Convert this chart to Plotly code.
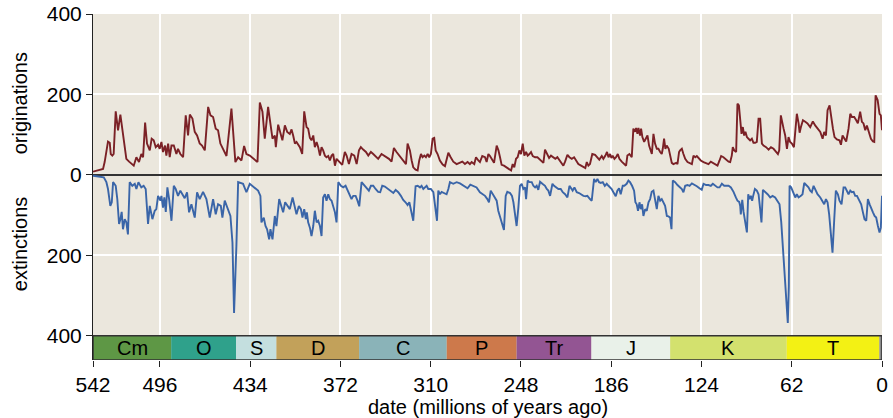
import plotly.graph_objects as go

# ---- data (age in millions of years ago, count) ----
originations = [
    (542.0, 8), (538.5, 11), (535.1, 15), (534.0, 32), (531.7, 83), (530.5, 80), (529.8, 52), (528.7, 48),
    (527.8, 52), (526.4, 158), (524.8, 111), (523.2, 150), (521.4, 98), (519.1, 40), (517.2, 33), (515.6, 27),
    (514.0, 23), (512.2, 44), (510.4, 32), (508.8, 52), (507.6, 44), (506.2, 130), (504.9, 78), (503.0, 61),
    (501.7, 90), (500.3, 86), (498.9, 69), (497.3, 75), (496.2, 65), (495.0, 82), (493.9, 57), (492.5, 73),
    (491.6, 48), (490.4, 78), (489.3, 44), (488.1, 73), (486.5, 73), (484.7, 52), (483.6, 65), (482.0, 52),
    (480.1, 44), (478.3, 148), (476.7, 98), (475.5, 150), (473.7, 140), (472.1, 107), (470.5, 98), (468.7, 78),
    (467.1, 73), (465.2, 61), (462.9, 169), (461.3, 148), (459.5, 144), (457.7, 115), (456.1, 111), (454.5, 78),
    (452.6, 65), (450.3, 47), (446.9, 165), (444.2, 32), (442.3, 44), (440.0, 36), (438.2, 72), (436.6, 52),
    (434.3, 48), (430.9, 38), (429.0, 32), (427.4, 180), (425.6, 157), (424.0, 90), (421.7, 169), (420.6, 140),
    (418.7, 90), (417.1, 98), (416.4, 69), (414.8, 125), (413.2, 102), (411.9, 86), (410.2, 123), (408.6, 107),
    (406.8, 102), (405.6, 113), (404.5, 98), (403.3, 78), (402.2, 82), (401.0, 73), (399.9, 69), (398.3, 52),
    (396.9, 158), (395.3, 119), (394.2, 115), (393.0, 92), (391.9, 86), (390.7, 98), (389.6, 69), (388.4, 82),
    (387.3, 69), (386.1, 48), (385.0, 69), (383.9, 61), (382.7, 48), (381.6, 44), (380.4, 47), (379.3, 36),
    (378.1, 48), (377.0, 52), (375.8, 23), (374.7, 40), (373.5, 36), (372.4, 32), (370.8, 25), (369.0, 57),
    (367.8, 48), (366.2, 27), (364.4, 52), (362.5, 48), (360.9, 27), (359.3, 61), (358.0, 69), (356.4, 63),
    (354.5, 57), (352.9, 48), (351.1, 57), (349.5, 52), (347.9, 47), (346.1, 40), (343.8, 52), (341.9, 48),
    (340.3, 44), (338.7, 40), (336.9, 33), (335.3, 67), (333.5, 57), (331.6, 48), (330.0, 42), (328.2, 32),
    (327.0, 27), (325.9, 78), (324.3, 61), (323.1, 36), (322.0, 19), (320.4, 13), (319.0, 11), (317.9, 36),
    (316.7, 52), (315.6, 44), (314.4, 48), (313.3, 44), (312.1, 52), (311.0, 44), (309.9, 52), (308.7, 90),
    (307.6, 92), (306.6, 61), (305.3, 52), (303.7, 36), (301.8, 26), (300.2, 22), (299.1, 36), (297.9, 55),
    (296.3, 44), (294.5, 33), (292.2, 27), (289.9, 30), (288.3, 33), (286.5, 27), (284.7, 32), (283.1, 27),
    (281.9, 32), (280.1, 27), (278.9, 44), (277.3, 36), (276.2, 32), (274.6, 47), (272.7, 44), (271.6, 32),
    (270.4, 52), (269.3, 47), (268.1, 40), (266.5, 30), (264.7, 73), (263.5, 61), (262.4, 44), (261.3, 25),
    (259.7, 23), (257.8, 19), (256.0, 15), (254.8, 11), (253.7, 27), (252.6, 19), (251.4, 40), (250.3, 44),
    (249.1, 61), (248.0, 52), (246.8, 78), (245.7, 48), (244.5, 57), (243.4, 48), (242.2, 52), (241.1, 57),
    (239.9, 47), (238.3, 44), (236.7, 44), (235.4, 40), (233.8, 36), (232.6, 30), (231.5, 63), (230.3, 52),
    (228.7, 42), (227.4, 48), (225.7, 44), (224.4, 40), (223.0, 44), (221.6, 36), (220.5, 33), (218.9, 23),
    (217.7, 33), (216.1, 50), (214.7, 44), (213.1, 40), (211.5, 44), (210.2, 36), (208.6, 27), (206.7, 23),
    (205.1, 19), (203.8, 17), (202.8, 32), (201.7, 23), (200.6, 27), (199.0, 52), (197.1, 50), (195.5, 44),
    (194.2, 38), (192.5, 47), (191.4, 40), (190.0, 48), (188.9, 57), (187.9, 44), (186.8, 52), (185.9, 42),
    (185.0, 48), (183.8, 40), (182.7, 44), (181.5, 52), (180.4, 40), (178.8, 33), (177.2, 27), (175.8, 23),
    (174.9, 48), (173.5, 52), (171.9, 44), (170.8, 115), (169.6, 107), (168.9, 117), (168.0, 102), (167.3, 117),
    (166.2, 98), (165.5, 115), (164.6, 94), (163.4, 82), (162.3, 90), (161.1, 98), (160.0, 73), (158.9, 57),
    (158.1, 52), (157.0, 102), (155.9, 78), (154.7, 65), (153.6, 65), (152.4, 57), (151.3, 52), (150.6, 65),
    (149.7, 90), (148.8, 65), (147.9, 73), (146.5, 65), (145.6, 48), (144.4, 30), (143.3, 27), (141.4, 30),
    (140.5, 27), (139.4, 57), (138.7, 61), (137.5, 65), (136.4, 52), (135.2, 40), (133.6, 32), (131.8, 30),
    (130.6, 27), (129.5, 48), (128.3, 44), (127.2, 47), (126.1, 42), (124.5, 36), (122.6, 32), (120.8, 30),
    (119.2, 27), (117.6, 33), (116.2, 30), (114.6, 27), (113.0, 23), (111.6, 36), (110.5, 47), (108.9, 44),
    (107.0, 38), (105.4, 33), (104.3, 32), (103.2, 48), (102.5, 69), (101.5, 61), (100.2, 57), (99.3, 177),
    (98.3, 173), (97.4, 132), (96.5, 102), (95.6, 119), (94.7, 98), (93.8, 107), (92.8, 94), (91.7, 90),
    (90.6, 86), (89.4, 90), (88.3, 80), (87.1, 80), (86.0, 82), (84.8, 140), (83.7, 140), (82.5, 78),
    (81.4, 73), (79.6, 69), (77.9, 63), (76.3, 69), (74.5, 65), (72.9, 58), (71.5, 52), (70.6, 61),
    (69.5, 148), (67.6, 115), (66.5, 98), (65.3, 65), (64.2, 94), (63.1, 82), (61.9, 78), (60.5, 69),
    (59.6, 115), (58.5, 152), (57.3, 128), (56.6, 105), (55.7, 119), (54.3, 136), (52.7, 132), (51.2, 128),
    (49.3, 119), (47.5, 133), (45.9, 123), (44.3, 115), (42.4, 107), (40.8, 90), (39.7, 107), (38.5, 98),
    (37.4, 161), (36.0, 173), (35.1, 148), (33.7, 115), (32.6, 94), (31.0, 88), (29.2, 86), (28.2, 75),
    (27.1, 98), (26.0, 92), (24.6, 83), (23.0, 115), (21.8, 152), (20.7, 144), (19.1, 144), (17.7, 136),
    (16.6, 128), (15.0, 157), (13.8, 132), (12.7, 128), (11.5, 111), (10.4, 123), (9.0, 107), (7.6, 90),
    (6.2, 83), (5.3, 82), (4.4, 198), (3.0, 186), (1.7, 152), (0.8, 148), (0.0, 111),
]

extinctions = [
    (542.0, 2), (538.5, 3), (534.6, 6), (532.8, 18), (531.7, 35), (530.1, 77), (529.1, 68), (528.2, 18),
    (526.4, 27), (525.3, 60), (524.1, 122), (523.2, 110), (522.3, 92), (521.4, 135), (520.2, 110), (519.1, 118),
    (518.0, 148), (516.8, 18), (515.0, 27), (513.3, 22), (512.2, 35), (510.8, 18), (508.8, 31), (507.2, 27),
    (505.8, 35), (504.2, 122), (503.0, 77), (501.2, 110), (499.6, 89), (498.5, 85), (497.3, 52), (495.7, 64),
    (495.0, 52), (493.9, 81), (493.0, 56), (492.0, 92), (490.9, 31), (489.7, 60), (488.1, 114), (486.5, 27),
    (485.2, 35), (483.6, 52), (482.0, 39), (480.6, 48), (479.0, 58), (477.4, 43), (476.0, 93), (474.4, 73),
    (472.1, 106), (470.5, 43), (468.7, 60), (466.4, 42), (464.1, 60), (461.8, 106), (459.5, 60), (457.7, 98),
    (456.1, 73), (454.2, 77), (453.1, 106), (451.5, 64), (449.2, 85), (447.6, 102), (446.2, 168), (445.1, 343),
    (443.5, 177), (442.3, 18), (438.9, 22), (436.6, 43), (434.3, 22), (430.9, 31), (428.6, 39), (427.0, 52),
    (426.3, 118), (424.7, 106), (423.5, 127), (422.4, 135), (421.0, 160), (420.1, 135), (418.7, 160), (417.1, 102),
    (416.0, 127), (414.1, 60), (412.5, 77), (411.4, 93), (410.0, 68), (408.6, 77), (406.8, 85), (404.9, 56),
    (403.8, 73), (402.2, 98), (400.6, 77), (399.2, 85), (398.1, 106), (396.9, 85), (395.8, 110), (395.1, 93),
    (394.2, 118), (393.0, 131), (391.9, 152), (390.7, 127), (389.6, 89), (388.4, 118), (387.3, 114), (386.1, 127),
    (385.0, 152), (383.9, 56), (382.7, 48), (381.6, 64), (380.4, 48), (379.3, 60), (378.1, 64), (377.0, 77),
    (375.8, 93), (374.7, 118), (373.5, 18), (371.7, 27), (370.1, 31), (368.5, 27), (367.1, 39), (365.5, 48),
    (364.4, 60), (363.2, 52), (361.6, 52), (360.3, 64), (359.1, 78), (357.5, 18), (355.7, 25), (354.1, 31),
    (352.5, 39), (351.1, 27), (349.5, 27), (347.9, 35), (346.1, 42), (344.7, 43), (343.3, 27), (341.5, 29),
    (339.2, 35), (337.3, 42), (335.7, 45), (334.1, 37), (332.3, 43), (330.5, 52), (328.9, 62), (327.3, 68),
    (325.9, 75), (324.7, 68), (323.6, 89), (322.0, 114), (320.4, 28), (319.0, 27), (317.4, 31), (316.3, 27),
    (315.1, 35), (314.0, 31), (312.8, 27), (311.7, 35), (309.9, 35), (308.2, 43), (307.1, 73), (305.7, 114),
    (304.8, 39), (303.7, 48), (302.5, 42), (300.7, 45), (299.1, 48), (297.9, 35), (296.8, 18), (294.5, 22),
    (292.2, 18), (289.9, 21), (287.6, 27), (284.7, 33), (282.8, 24), (280.8, 28), (278.5, 31), (276.2, 43),
    (273.9, 48), (272.7, 52), (271.1, 60), (270.0, 68), (268.8, 39), (267.4, 48), (265.8, 56), (264.7, 64),
    (263.6, 89), (262.0, 110), (260.8, 127), (259.7, 137), (258.5, 52), (257.4, 42), (255.5, 45), (254.2, 52),
    (253.2, 68), (251.9, 106), (251.0, 127), (249.8, 81), (248.7, 27), (247.5, 22), (246.4, 35), (245.2, 31),
    (244.5, 60), (243.4, 14), (242.2, 18), (240.6, 18), (239.5, 27), (238.3, 31), (237.2, 27), (236.1, 37),
    (234.9, 17), (233.3, 22), (231.5, 27), (230.3, 35), (229.2, 39), (228.0, 52), (226.4, 22), (225.3, 27),
    (223.9, 31), (222.3, 35), (220.7, 35), (219.3, 43), (217.7, 48), (216.1, 56), (214.7, 27), (213.6, 35),
    (212.5, 39), (211.3, 31), (209.7, 43), (208.1, 45), (206.7, 48), (205.1, 52), (203.5, 53), (202.4, 52),
    (200.6, 60), (199.4, 64), (197.8, 10), (196.7, 18), (195.5, 10), (194.4, 18), (193.2, 20), (191.8, 18),
    (190.4, 27), (189.1, 22), (187.9, 27), (186.8, 31), (185.7, 35), (184.5, 43), (182.9, 53), (181.8, 39),
    (180.6, 33), (179.5, 48), (178.1, 27), (177.0, 27), (175.4, 22), (174.2, 14), (173.1, 18), (171.7, 27),
    (170.3, 39), (169.4, 68), (168.5, 73), (167.6, 89), (166.6, 68), (165.7, 85), (164.8, 73), (163.9, 102),
    (162.7, 85), (161.6, 89), (160.4, 68), (159.3, 60), (158.2, 42), (157.0, 39), (155.9, 60), (154.7, 85),
    (153.6, 52), (152.4, 64), (151.3, 60), (150.2, 68), (149.0, 77), (147.8, 102), (146.7, 103), (145.6, 106),
    (144.6, 135), (143.7, 14), (142.1, 18), (140.5, 25), (138.7, 31), (137.5, 35), (136.4, 43), (135.2, 27),
    (133.6, 25), (132.2, 27), (130.6, 21), (129.0, 24), (127.2, 28), (125.4, 33), (123.8, 37), (122.6, 22),
    (120.8, 25), (119.2, 25), (117.6, 27), (116.2, 22), (114.6, 27), (113.0, 31), (111.6, 31), (110.0, 22),
    (108.4, 27), (107.0, 27), (105.4, 27), (103.8, 31), (102.0, 42), (100.4, 56), (99.3, 64), (98.1, 67),
    (97.4, 77), (97.0, 98), (96.0, 62), (95.1, 92), (94.0, 118), (92.8, 143), (91.9, 48), (91.0, 60),
    (90.1, 52), (89.2, 64), (88.5, 52), (87.3, 35), (86.0, 39), (84.8, 48), (83.7, 85), (82.8, 118),
    (81.8, 37), (80.2, 42), (78.6, 48), (76.8, 56), (75.2, 52), (73.4, 56), (71.8, 64), (70.4, 73),
    (69.2, 118), (68.1, 185), (66.5, 268), (65.3, 327), (64.7, 368), (64.0, 277), (63.5, 27), (62.4, 31),
    (61.2, 42), (59.6, 56), (58.5, 48), (57.3, 56), (55.7, 52), (54.6, 48), (53.4, 20), (52.1, 25),
    (50.5, 31), (49.3, 39), (48.2, 43), (47.0, 27), (45.9, 35), (44.3, 48), (42.4, 56), (40.6, 68),
    (39.7, 73), (38.5, 60), (37.4, 68), (36.3, 98), (35.1, 143), (34.0, 193), (32.8, 110), (31.7, 39),
    (30.3, 48), (29.2, 64), (27.8, 73), (26.4, 31), (25.3, 31), (24.1, 39), (23.0, 48), (21.8, 39),
    (20.7, 43), (19.5, 42), (18.4, 52), (17.2, 52), (15.6, 64), (14.3, 73), (13.1, 93), (12.0, 110),
    (10.8, 114), (9.7, 60), (8.5, 73), (7.4, 85), (6.2, 93), (5.1, 102), (4.0, 106), (2.8, 127),
    (1.7, 143), (0.8, 131), (0.0, 52),
]

orig_age = [a for a, _ in originations]
orig_count = [c for _, c in originations]
ext_age = [a for a, _ in extinctions]
ext_count = [c for _, c in extinctions]

period_names = ["Cm", "O", "S", "D", "C", "P", "Tr", "J", "K", "T", ""]
period_bounds = [542, 488.3, 443.7, 416.0, 359.2, 299.0, 251.0, 199.6, 145.5, 65.5, 1.8, 0]
period_colors = ["#5e9745", "#2fa18b", "#c4dfdf", "#c2a15a", "#8ab3b8", "#cd794b",
                 "#935593", "#e9f1e9", "#d3e16e", "#f3f114", "#8a8a8a"]

x_ticks = [542, 496, 434, 372, 310, 248, 186, 124, 62, 0]
y_ticks = [400, 200, 0, -200, -400]
y_ticktext = ["400", "200", "0", "200", "400"]

FONT = "Liberation Sans, Arial, Helvetica, sans-serif"
L, R, T, B = 93, 11, 14, 58
W, H = 893, 418
PW, PH = W - L - R, H - T - B

fig = go.Figure()
fig.add_trace(go.Scatter(x=orig_age, y=orig_count, mode="lines",
                         line=dict(color="#7b2126", width=1.9), name="originations"))
fig.add_trace(go.Scatter(x=ext_age, y=[-v for v in ext_count], mode="lines",
                         line=dict(color="#3a65a8", width=1.9), name="extinctions"))

shapes = []
for i, name in enumerate(period_names):
    shapes.append(dict(type="rect", xref="x", yref="y",
                       x0=period_bounds[i], x1=period_bounds[i + 1], y0=-460, y1=-400,
                       fillcolor=period_colors[i], line=dict(width=0), layer="above"))
shapes.append(dict(type="rect", xref="x", yref="y", x0=542, x1=0, y0=-460, y1=-400,
                   line=dict(color="#333333", width=1.5), fillcolor="rgba(0,0,0,0)", layer="above"))

annotations = []
for i, name in enumerate(period_names):
    if name:
        annotations.append(dict(x=(period_bounds[i] + period_bounds[i + 1]) / 2, y=-431,
                                xref="x", yref="y", text=name, showarrow=False,
                                font=dict(size=20, color="black", family=FONT)))
annotations.append(dict(x=(20 - L) / PW, y=178, xref="paper", yref="y", text="originations",
                        xanchor="center", yanchor="middle",
                        textangle=-90, showarrow=False, font=dict(size=20, color="black", family=FONT)))
annotations.append(dict(x=(20 - L) / PW, y=-172, xref="paper", yref="y", text="extinctions",
                        xanchor="center", yanchor="middle",
                        textangle=-90, showarrow=False, font=dict(size=20, color="black", family=FONT)))
annotations.append(dict(x=0.5, y=-(407 - (T + PH)) / PH, xref="paper", yref="paper",
                        text="date (millions of years ago)", xanchor="center", yanchor="middle",
                        showarrow=False, font=dict(size=20, color="black", family=FONT)))

fig.update_layout(
    width=W, height=H,
    margin=dict(l=L, r=R, t=T, b=B, autoexpand=False),
    paper_bgcolor="white", plot_bgcolor="#ebe7dd",
    showlegend=False,
    shapes=shapes, annotations=annotations,
    font=dict(family=FONT, size=21, color="black"),
    xaxis=dict(range=[542, 0], tickvals=x_ticks, ticks="outside", ticklen=6, tickcolor="#222",
               showgrid=True, gridcolor="white", gridwidth=1.5, zeroline=False, automargin=False,
               showline=False, tickfont=dict(size=21, color="black")),
    yaxis=dict(range=[-460, 400], tickvals=y_ticks, ticktext=y_ticktext, ticks="outside",
               ticklen=6, tickcolor="#222", showline=True, linecolor="#222", linewidth=1,
               showgrid=True, gridcolor="white", gridwidth=1.5, automargin=False,
               zeroline=True, zerolinecolor="#333333", zerolinewidth=1.5,
               tickfont=dict(size=21, color="black")),
)

fig.write_html("out.html", config={"displayModeBar": False},
               post_script="document.body.style.margin='0';document.body.style.padding='0';")
